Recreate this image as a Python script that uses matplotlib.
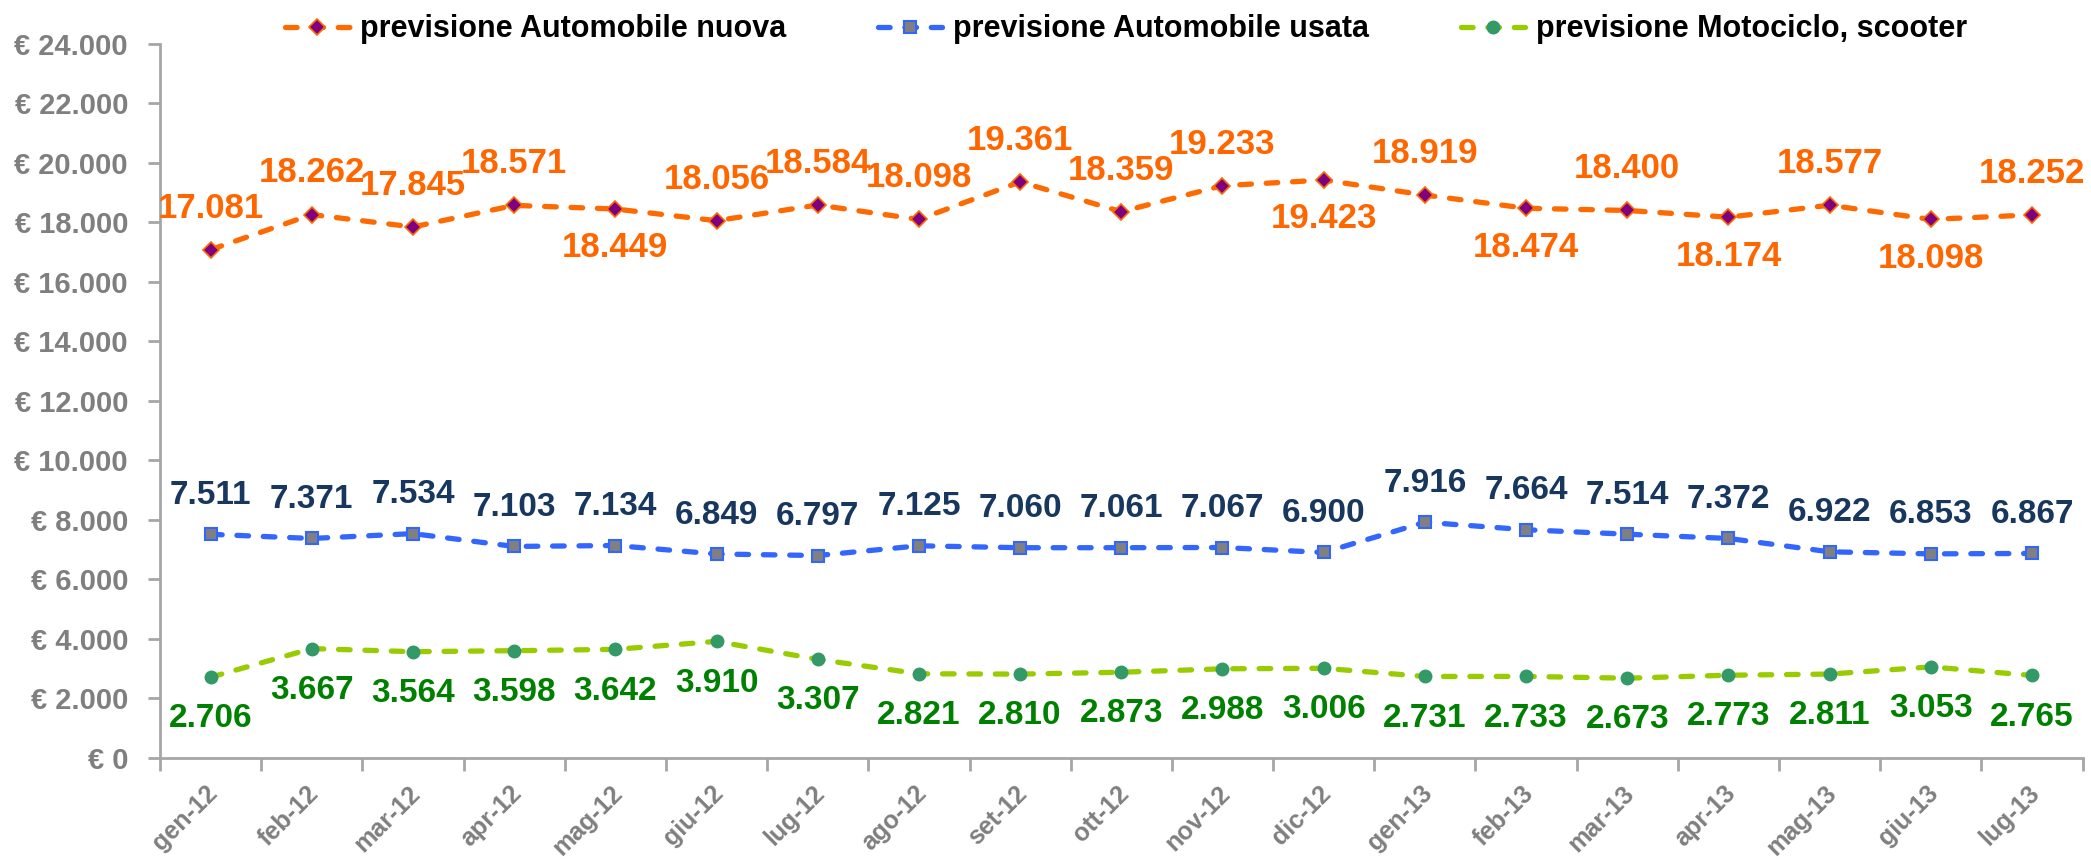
import matplotlib.pyplot as plt
from matplotlib.ticker import FuncFormatter, FixedLocator
from matplotlib.transforms import ScaledTranslation

months = ["gen-12", "feb-12", "mar-12", "apr-12", "mag-12", "giu-12", "lug-12",
          "ago-12", "set-12", "ott-12", "nov-12", "dic-12", "gen-13", "feb-13",
          "mar-13", "apr-13", "mag-13", "giu-13", "lug-13"]

auto_nuova = [17081, 18262, 17845, 18571, 18449, 18056, 18584, 18098, 19361, 18359,
              19233, 19423, 18919, 18474, 18400, 18174, 18577, 18098, 18252]
auto_usata = [7511, 7371, 7534, 7103, 7134, 6849, 6797, 7125, 7060, 7061,
              7067, 6900, 7916, 7664, 7514, 7372, 6922, 6853, 6867]
moto = [2706, 3667, 3564, 3598, 3642, 3910, 3307, 2821, 2810, 2873,
        2988, 3006, 2731, 2733, 2673, 2773, 2811, 3053, 2765]

# indexes of the "nuova" labels that sit under the line
nuova_below = [4, 11, 13, 15, 17]

plt.rcParams['font.family'] = ['Liberation Sans', 'DejaVu Sans']
plt.rcParams['font.weight'] = 'bold'


def it_num(v):
    return f"{int(round(v)):,}".replace(",", ".")


fig = plt.figure(figsize=(20.91, 8.61), dpi=100)
ax = fig.add_axes([0.0765, 0.12, 0.9195, 0.829])

x = list(range(len(months)))
dash = dict(linestyle=(0, (2.2, 2.8)), dash_capstyle='round', linewidth=3.8)

ax.plot(x, auto_nuova, color='#FF6A00', marker='D', markersize=8,
        markerfacecolor='#7F007F', markeredgecolor='#FF6A00', markeredgewidth=1.2,
        label='previsione Automobile nuova', **dash)
ax.plot(x, auto_usata, color='#3366FF', marker='s', markersize=9,
        markerfacecolor='#808080', markeredgecolor='#3366FF', markeredgewidth=1.5,
        label='previsione Automobile usata', **dash)
ax.plot(x, moto, color='#99CC00', marker='o', markersize=9,
        markerfacecolor='#339966', markeredgecolor='#339966',
        label='previsione Motociclo, scooter', **dash)

for i, v in enumerate(auto_nuova):
    dy = -28 if i in nuova_below else 30
    ax.annotate(it_num(v), (i, v), xytext=(0, dy), textcoords='offset points',
                ha='center', va='center', fontsize=25, fontweight='bold', color='#FF6600')
for i, v in enumerate(auto_usata):
    ax.annotate(it_num(v), (i, v), xytext=(0, 28), textcoords='offset points',
                ha='center', va='center', fontsize=24, fontweight='bold', color='#17375E')
for i, v in enumerate(moto):
    ax.annotate(it_num(v), (i, v), xytext=(0, -30), textcoords='offset points',
                ha='center', va='center', fontsize=24, fontweight='bold', color='#008000')

ax.set_xlim(-0.5, len(months) - 0.5)
ax.set_ylim(0, 24000)
ax.set_yticks(range(0, 24001, 2000))
ax.yaxis.set_major_formatter(FuncFormatter(lambda v, p: "€ " + it_num(v)))
ax.set_xticks(x)
ax.set_xticklabels(months, rotation=45, ha='right', rotation_mode='anchor')
ax.xaxis.set_minor_locator(FixedLocator([k - 0.5 for k in range(len(months) + 1)]))

ax.tick_params(axis='x', which='major', length=0, pad=17, labelsize=18, labelcolor='#7F7F7F')
ax.tick_params(axis='x', which='minor', length=9, width=2, color='#A6A6A6')
ax.tick_params(axis='y', length=9, width=2, color='#A6A6A6', labelsize=21,
               labelcolor='#7F7F7F', pad=14)
shift = ScaledTranslation(-5 / 100, 0, fig.dpi_scale_trans)
for lab in ax.get_xticklabels():
    lab.set_fontweight('bold')
    lab.set_transform(lab.get_transform() + shift)
for lab in ax.get_yticklabels():
    lab.set_fontweight('bold')

for s in ['top', 'right']:
    ax.spines[s].set_visible(False)
for s in ['left', 'bottom']:
    ax.spines[s].set_color('#A6A6A6')
    ax.spines[s].set_linewidth(2)

fig.legend(loc='center', bbox_to_anchor=(0.5385, 0.966), ncol=3, frameon=False,
           prop={'size': 22, 'weight': 'bold'}, handlelength=2.1, handletextpad=0.35,
           columnspacing=3.0)

fig.savefig('out.png', dpi=100)
